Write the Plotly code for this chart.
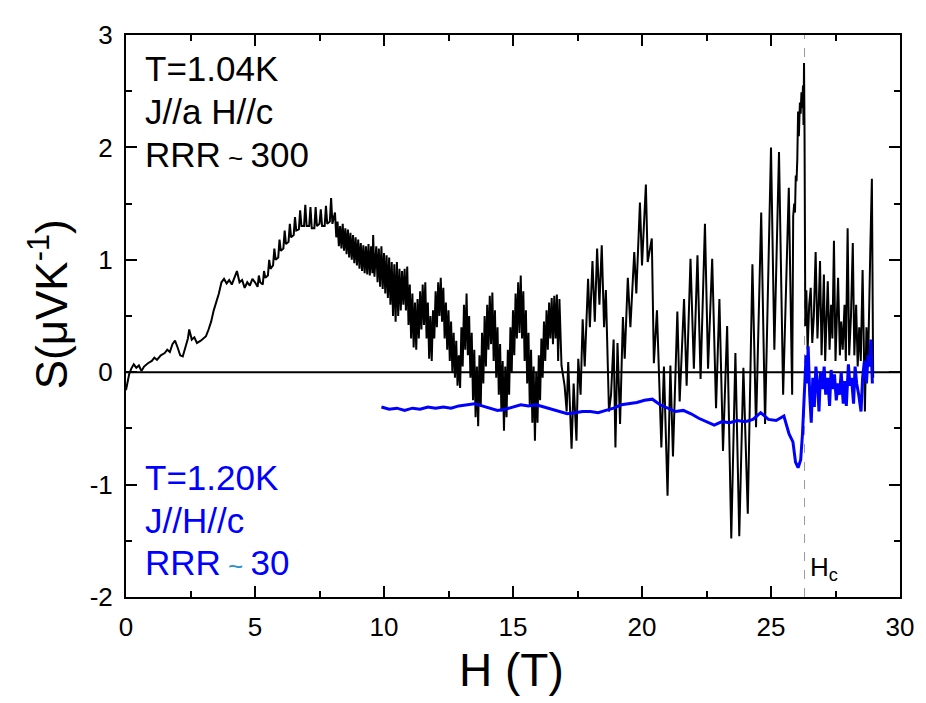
import plotly.graph_objects as go

# black trace, T = 1.04 K, J//a H//c (H in tesla, S in uV/K)
black_low = [(0.0, -0.16), (0.05, -0.1), (0.12, -0.02), (0.2, 0.03), (0.3, 0.07),
             (0.4, 0.04), (0.5, 0.06), (0.6, 0.01), (0.7, 0.05), (0.85, 0.08),
             (1.0, 0.1), (1.1, 0.13), (1.2, 0.11), (1.35, 0.15), (1.5, 0.17),
             (1.6, 0.2), (1.7, 0.18), (1.8, 0.25), (1.9, 0.28), (2.0, 0.22),
             (2.1, 0.15), (2.2, 0.14), (2.3, 0.22), (2.4, 0.3), (2.45, 0.38),
             (2.55, 0.29), (2.65, 0.31), (2.75, 0.26), (2.9, 0.28), (3.0, 0.3),
             (3.1, 0.32), (3.2, 0.38), (3.3, 0.45), (3.4, 0.55), (3.5, 0.62),
             (3.6, 0.7), (3.7, 0.8), (3.8, 0.83), (3.9, 0.79), (4.0, 0.82),
             (4.1, 0.78), (4.2, 0.84), (4.3, 0.9), (4.4, 0.8), (4.5, 0.82),
             (4.6, 0.75), (4.7, 0.8), (4.8, 0.77), (4.9, 0.83), (5.0, 0.8)]

black_hump = [(5.1, 0.76), (5.15, 0.86), (5.2, 0.8), (5.3, 0.78), (5.35, 0.9), (5.4, 0.84),
              (5.5, 0.86), (5.55, 1.0), (5.6, 0.92), (5.7, 0.95), (5.75, 1.1), (5.8, 1.0),
              (5.9, 1.02), (5.95, 1.18), (6.0, 1.08), (6.1, 1.1), (6.15, 1.26), (6.2, 1.14),
              (6.3, 1.16), (6.35, 1.32), (6.4, 1.2), (6.5, 1.22), (6.55, 1.38), (6.6, 1.26),
              (6.7, 1.27), (6.75, 1.44), (6.8, 1.3), (6.9, 1.3), (6.95, 1.49), (7.0, 1.3),
              (7.1, 1.3), (7.15, 1.47), (7.2, 1.28), (7.3, 1.28), (7.35, 1.47), (7.4, 1.3),
              (7.5, 1.32), (7.55, 1.45), (7.6, 1.3), (7.7, 1.3), (7.75, 1.48), (7.8, 1.32),
              (7.9, 1.34), (7.95, 1.55), (8.0, 1.32), (8.1, 1.42), (8.15, 1.2)]

black_band = [(8.2, 1.34), (8.25, 1.12), (8.3, 1.3), (8.35, 1.1), (8.4, 1.32),
              (8.45, 1.08), (8.5, 1.28), (8.55, 1.05), (8.6, 1.27), (8.65, 1.02),
              (8.7, 1.24), (8.75, 1.0), (8.8, 1.22), (8.85, 0.97), (8.9, 1.2),
              (8.95, 0.95), (9.0, 1.18), (9.05, 0.92), (9.1, 1.15), (9.15, 0.9),
              (9.2, 1.13), (9.25, 0.88), (9.3, 1.12), (9.35, 0.87), (9.4, 1.14),
              (9.45, 0.86), (9.5, 1.12), (9.55, 0.88), (9.58, 1.22), (9.63, 0.85),
              (9.7, 1.12), (9.75, 0.8), (9.8, 1.1), (9.85, 0.76), (9.9, 1.12),
              (9.95, 0.74), (10.0, 1.06), (10.05, 0.7), (10.1, 1.04), (10.15, 0.66),
              (10.2, 1.02), (10.25, 0.6), (10.3, 0.98), (10.35, 0.5), (10.4, 0.96),
              (10.45, 0.45), (10.5, 0.98), (10.55, 0.5), (10.6, 0.92), (10.65, 0.55),
              (10.7, 0.9), (10.75, 0.6), (10.8, 0.92), (10.85, 0.55), (10.9, 0.94),
              (10.95, 0.42), (11.0, 0.78), (11.05, 0.3), (11.1, 0.7), (11.15, 0.22),
              (11.2, 0.62), (11.25, 0.2), (11.3, 0.65), (11.35, 0.3), (11.4, 0.72),
              (11.45, 0.38), (11.5, 0.78), (11.55, 0.42), (11.6, 0.8), (11.65, 0.3),
              (11.7, 0.62), (11.75, 0.12), (11.8, 0.5), (11.85, 0.1), (11.9, 0.55),
              (11.95, 0.3)]

black_mid = [(12.0, 0.72), (12.05, 0.4), (12.1, 0.8), (12.15, 0.5), (12.2, 0.84),
             (12.25, 0.45), (12.3, 0.75), (12.35, 0.3), (12.4, 0.62), (12.45, 0.2),
             (12.5, 0.55), (12.55, 0.1), (12.6, 0.45), (12.65, 0.0), (12.7, 0.35),
             (12.75, -0.05), (12.8, 0.28), (12.85, -0.12), (12.9, 0.15), (12.95, -0.14),
             (13.0, 0.4), (13.05, 0.05), (13.1, 0.6), (13.15, 0.2), (13.2, 0.7),
             (13.25, 0.15), (13.3, 0.5), (13.35, -0.05), (13.4, 0.35), (13.45, -0.25),
             (13.5, 0.2), (13.55, -0.4), (13.6, 0.05), (13.65, -0.48), (13.7, 0.15),
             (13.75, -0.3), (13.8, 0.35), (13.85, -0.1), (13.9, 0.5), (13.95, 0.05),
             (14.0, 0.6), (14.05, 0.2), (14.1, 0.68), (14.15, 0.25), (14.2, 0.71),
             (14.25, 0.1), (14.3, 0.55), (14.35, -0.05), (14.4, 0.4), (14.45, -0.2),
             (14.5, 0.25), (14.55, -0.35), (14.6, 0.1), (14.65, -0.52), (14.7, 0.05),
             (14.75, -0.4), (14.8, 0.2), (14.85, -0.2), (14.9, 0.4), (14.95, 0.0),
             (15.0, 0.55), (15.05, 0.15), (15.1, 0.7), (15.15, 0.3), (15.2, 0.8),
             (15.25, 0.35), (15.3, 0.86), (15.35, 0.3), (15.4, 0.72), (15.45, 0.1),
             (15.5, 0.55), (15.55, -0.1), (15.6, 0.35), (15.65, -0.3), (15.7, 0.2),
             (15.75, -0.45), (15.8, 0.05), (15.85, -0.61), (15.9, 0.0), (15.95, -0.45),
             (16.0, 0.15), (16.05, -0.25), (16.1, 0.3), (16.15, -0.05), (16.2, 0.45),
             (16.25, 0.1), (16.3, 0.55), (16.35, 0.2), (16.4, 0.62), (16.45, 0.3),
             (16.5, 0.66), (16.55, 0.25), (16.6, 0.68), (16.65, 0.3), (16.7, 0.69),
             (16.75, 0.1), (16.8, 0.65), (16.88, 0.06)]

black_high = [(17.0, -0.12), (17.08, -0.35), (17.14, 0.09), (17.27, -0.68), (17.35, -0.1),
              (17.46, -0.61), (17.53, 0.12), (17.62, -0.2), (17.7, 0.47), (17.78, 0.05),
              (17.91, 0.83), (17.98, 0.4), (18.08, 0.99), (18.17, 0.45), (18.26, 1.1),
              (18.35, 0.6), (18.44, 1.13), (18.53, 0.4), (18.6, 0.73), (18.72, -0.35),
              (18.8, -0.2), (18.9, 0.29), (18.97, -0.67), (19.05, 0.26), (19.15, -0.46),
              (19.26, 0.49), (19.33, 0.12), (19.45, 0.84), (19.55, 0.4), (19.7, 1.07),
              (19.78, 0.7), (19.92, 1.51), (20.0, 0.95), (20.15, 1.67), (20.22, 0.98),
              (20.38, 1.19), (20.46, 0.08), (20.58, 0.55), (20.75, -0.67), (20.85, 0.05),
              (20.99, -1.1), (21.1, 0.06), (21.2, -0.75), (21.37, 0.54), (21.46, -0.26),
              (21.63, 0.65), (21.73, -0.12), (21.88, 1.01), (22.01, 0.03), (22.15, 1.04),
              (22.27, -0.06), (22.44, 1.32), (22.56, 0.03), (22.72, 1.01), (22.87, -0.32),
              (23.0, 0.65), (23.14, -0.7), (23.3, 0.41), (23.46, -1.48), (23.62, 0.17),
              (23.77, -1.46), (23.93, 0.04), (24.1, -1.26), (24.28, 0.96), (24.42, -0.49),
              (24.62, 1.42), (24.77, -0.46), (25.0, 2.0), (25.13, 0.2), (25.31, 1.96),
              (25.47, -0.2), (25.69, 1.64), (25.82, -0.2)]

black_rise = [(25.86, 1.39), (25.9, 1.5), (25.93, 1.42), (25.96, 1.75), (25.99, 1.7),
              (26.02, 1.9), (26.05, 2.32), (26.08, 2.1), (26.12, 2.4), (26.15, 2.3),
              (26.18, 2.49), (26.21, 2.35), (26.24, 2.55), (26.26, 2.2), (26.28, 2.75),
              (26.3, 2.12), (26.33, 0.41)]

black_top = [(26.37, 0.73), (26.42, 0.2), (26.48, 0.6), (26.54, 0.75), (26.6, 0.26),
             (26.66, 0.5), (26.73, 1.07), (26.8, 0.3), (26.85, 0.6), (26.9, 0.99),
             (26.96, 0.15), (27.0, 0.55), (27.05, 0.87), (27.1, 0.1), (27.15, 0.5),
             (27.2, 0.81), (27.27, 0.2), (27.33, 0.6), (27.38, 0.3), (27.44, 1.17),
             (27.5, 0.1), (27.56, 0.5), (27.6, 0.84), (27.67, 0.15), (27.72, 0.45),
             (27.78, 0.2), (27.85, 0.6), (27.9, 0.1), (27.97, 1.28), (28.03, 0.15),
             (28.1, 0.5), (28.17, 1.15), (28.23, 0.15), (28.3, 0.6), (28.36, 0.05),
             (28.42, 0.4), (28.48, 0.1), (28.55, 0.91), (28.64, -0.35), (28.7, 0.4),
             (28.76, 0.05), (28.85, 1.1), (28.91, 1.72), (28.96, -0.05)]

# blue trace, T = 1.20 K, J//H//c
blue_flat = [(9.9, -0.31), (10.2, -0.33), (10.5, -0.32), (10.8, -0.34), (11.1, -0.32),
             (11.4, -0.33), (11.7, -0.31), (12.0, -0.32), (12.3, -0.31), (12.6, -0.32),
             (12.9, -0.3), (13.2, -0.29), (13.5, -0.28), (13.8, -0.3), (14.1, -0.32),
             (14.4, -0.34), (14.7, -0.33), (15.0, -0.31), (15.3, -0.29), (15.6, -0.3),
             (15.9, -0.29), (16.2, -0.31), (16.5, -0.33), (16.8, -0.35), (17.1, -0.37),
             (17.4, -0.36), (17.7, -0.35), (18.0, -0.35), (18.3, -0.36), (18.6, -0.34),
             (18.9, -0.32), (19.2, -0.29), (19.5, -0.28), (19.8, -0.27), (20.1, -0.25),
             (20.4, -0.24), (20.7, -0.29), (21.0, -0.32), (21.3, -0.35), (21.6, -0.34),
             (21.9, -0.37), (22.2, -0.41), (22.5, -0.44), (22.8, -0.47), (23.1, -0.44),
             (23.4, -0.45), (23.7, -0.43), (24.0, -0.44), (24.3, -0.42), (24.6, -0.36),
             (24.9, -0.42), (25.2, -0.43), (25.5, -0.39), (25.7, -0.55), (25.85, -0.62),
             (25.95, -0.8), (26.05, -0.85), (26.15, -0.78), (26.22, -0.55), (26.28, -0.2)]

blue_top = [(26.32, 0.05), (26.36, 0.15), (26.4, -0.1), (26.44, 0.23), (26.5, -0.2),
            (26.56, -0.45), (26.62, -0.05), (26.68, -0.31), (26.74, 0.05), (26.8, -0.1),
            (26.86, -0.35), (26.92, 0.0), (27.0, -0.15), (27.06, 0.05), (27.12, -0.2),
            (27.2, -0.05), (27.27, -0.3), (27.33, 0.02), (27.4, -0.15), (27.46, -0.02),
            (27.53, -0.25), (27.6, -0.1), (27.66, -0.2), (27.72, 0.0), (27.8, -0.28),
            (27.86, -0.08), (27.92, -0.3), (28.0, 0.07), (28.06, -0.12), (28.12, -0.05),
            (28.2, -0.28), (28.26, 0.05), (28.32, -0.1), (28.4, -0.2), (28.49, -0.35),
            (28.55, -0.05), (28.62, 0.1), (28.7, -0.1), (28.76, 0.15), (28.82, 0.05),
            (28.87, 0.29), (28.93, -0.1)]

h_c = 26.3
x_ticks = [0, 5, 10, 15, 20, 25, 30]
y_ticks = [-2, -1, 0, 1, 2, 3]
y_labels = ['-2', '-1', '0', '1', '2', '3']

black = black_low + black_hump + black_band + black_mid + black_high + black_rise + black_top
blue = blue_flat + blue_top
bh, bs = zip(*black)
uh, us = zip(*blue)

font = 'Liberation Sans, Arial, sans-serif'

fig = go.Figure()
fig.add_trace(go.Scatter(x=bh, y=bs, mode='lines',
                         line=dict(color='black', width=2)))
fig.add_trace(go.Scatter(x=uh, y=us, mode='lines',
                         line=dict(color='#0000ff', width=3)))

fig.add_shape(type='line', x0=0, x1=30, y0=0, y1=0, layer='below',
              line=dict(color='black', width=2))
fig.add_shape(type='line', x0=h_c, x1=h_c, y0=-2, y1=3, layer='below',
              line=dict(color='#999999', width=1, dash='dash'))

axis_style = dict(showline=True, linewidth=2, linecolor='black', mirror='ticks',
                  ticks='inside', ticklen=11, tickwidth=2, tickcolor='black',
                  showgrid=False, zeroline=False, ticklabeloverflow='allow',
                  tickfont=dict(family=font, size=26, color='black'))

fig.update_xaxes(range=[0, 30], tickvals=x_ticks,
                 minor=dict(dtick=2.5, ticks='inside', ticklen=6, tickwidth=2,
                            tickcolor='black', showgrid=False),
                 ticklabelstandoff=6, **axis_style)
fig.update_yaxes(range=[-2, 3], tickvals=y_ticks, ticktext=y_labels,
                 minor=dict(dtick=0.5, ticks='inside', ticklen=6, tickwidth=2,
                            tickcolor='black', showgrid=False),
                 ticklabelstandoff=6, **axis_style)

notes = [
    ('T=1.04K', 0.022, 0.94, 'black'),
    ('J//a H//c', 0.022, 0.864, 'black'),
    ('RRR<span style="font-size:26px"> ~ </span>300', 0.022, 0.787, 'black'),
    ('T=1.20K', 0.022, 0.213, '#0000ff'),
    ('J//H//c', 0.022, 0.137, '#0000ff'),
    ('RRR<span style="font-size:26px;color:#2a8fd0"> ~ </span>30', 0.022, 0.061, '#0000ff'),
]
for txt, xp, yp, col in notes:
    fig.add_annotation(text=txt, x=xp, y=yp, xref='paper', yref='paper',
                       xanchor='left', yanchor='middle', showarrow=False,
                       font=dict(family=font, size=35, color=col))

fig.add_annotation(text='H<sub>c</sub>', x=0.881, y=0.05, xref='paper', yref='paper',
                   xanchor='left', yanchor='middle', showarrow=False,
                   font=dict(family=font, size=26, color='black'))

# axis titles
fig.add_annotation(text='H (T)', x=0.498, y=-0.13, xref='paper', yref='paper',
                   xanchor='center', yanchor='middle', showarrow=False,
                   font=dict(family=font, size=46, color='black'))
fig.add_annotation(text='S(μVK<sup>-1</sup>)', x=-0.1, y=0.52, xref='paper', yref='paper',
                   xanchor='center', yanchor='middle', showarrow=False, textangle=-90,
                   font=dict(family=font, size=44, color='black'))

# page body keeps an 8px margin, so the figure is 8px smaller than the window
fig.update_layout(width=918, height=695, showlegend=False,
                  plot_bgcolor='white', paper_bgcolor='white',
                  margin=dict(l=118, r=21, t=14, b=106),
                  font=dict(family=font, color='black'))

fig.write_html('out.html')
